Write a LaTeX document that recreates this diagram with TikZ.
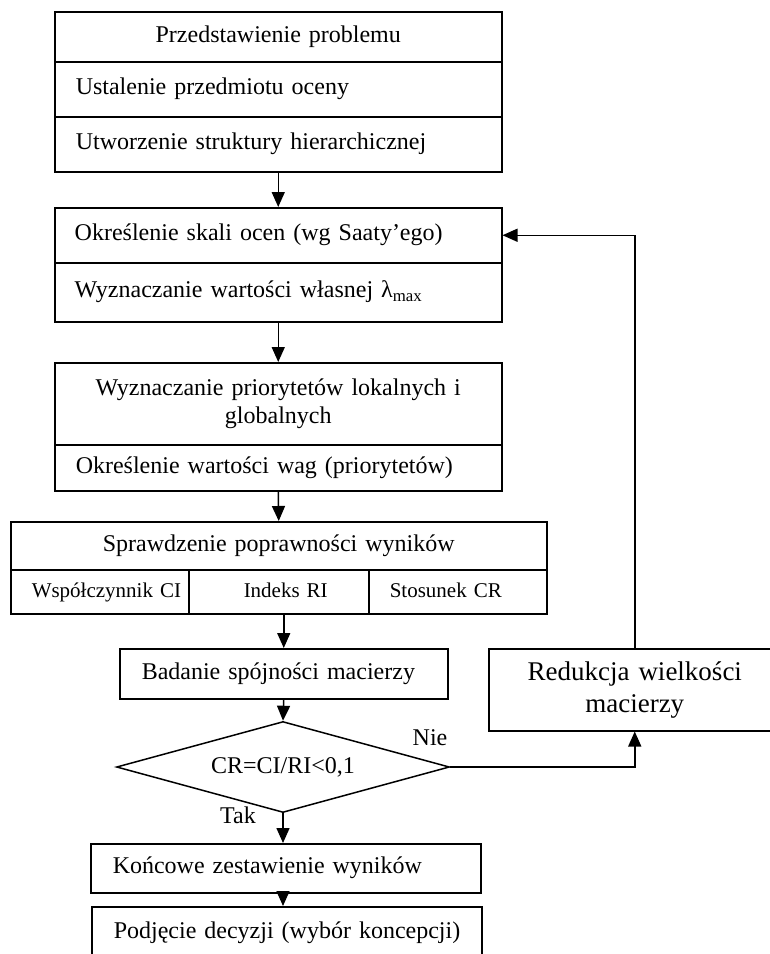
\documentclass[tikz,border=0pt]{standalone}
\usepackage{fontspec}
\setmainfont{Liberation Serif}
\usetikzlibrary{arrows.meta,shapes.geometric}
\newcommand{\fsmain}{\fontsize{24}{27.5}\selectfont}
\newcommand{\fscell}{\fontsize{21}{24}\selectfont}
\newcommand{\fsbig}{\fontsize{27}{32}\selectfont}
\newcommand{\padl}[1]{\hspace*{#1}}
\tikzset{
  box/.style={draw, line width=1.5pt, anchor=north west, inner ysep=0pt, inner xsep=0pt, font=\fsmain},
  one/.style={text height=17pt, text depth=6pt},
  lft/.style={align=left},
  ctr/.style={align=center},
  arr/.style={line width=1.5pt, -{Triangle[length=15pt,width=13pt]}},
  lbl/.style={font=\fsmain, inner sep=0pt}
}
\begin{document}
\begin{tikzpicture}[x=1pt,y=-1pt]
\useasboundingbox (0,0) rectangle (770,954);
\clip (0,0) rectangle (770,954);
% block 1
\node[box,ctr,one,text width=447pt,minimum height=50pt] (p1) at (54,11) {Przedstawienie problemu};
\node[box,lft,one,text width=447pt,minimum height=55pt] (p2) at (54,61) {\padl{21pt}Ustalenie przedmiotu oceny};
\node[box,lft,one,text width=447pt,minimum height=55pt] (p3) at (54,116) {\padl{21pt}Utworzenie struktury hierarchicznej};
% block 2
\node[box,lft,one,text width=447pt,minimum height=55pt] (s1) at (54,207) {\padl{20pt}Określenie skali ocen (wg Saaty’ego)};
\node[box,lft,one,text width=447pt,minimum height=59pt] (s2) at (54,262) {\padl{20pt}Wyznaczanie wartości własnej λ\textsubscript{max}};
% block 3
\node[box,ctr,text width=447pt,minimum height=82pt] (w1) at (54,362) {Wyznaczanie priorytetów lokalnych i\\globalnych};
\node[box,lft,one,text width=447pt,minimum height=46pt] (w2) at (54,444) {\padl{21pt}Określenie wartości wag (priorytetów)};
% block 4
\node[box,ctr,one,text width=536pt,minimum height=48pt] (c0) at (10,521) {Sprawdzenie poprawności wyników};
\node[box,lft,one,font=\fscell,text width=178pt,minimum height=44pt] (c1) at (10,569) {\padl{21pt}Współczynnik CI};
\node[box,lft,one,font=\fscell,text width=180pt,minimum height=44pt] (c2) at (188,569) {\padl{55pt}Indeks RI};
\node[box,lft,one,font=\fscell,text width=178pt,minimum height=44pt] (c3) at (368,569) {\padl{21pt}Stosunek CR};
% check
\node[box,lft,one,text width=328pt,minimum height=50pt] (bad) at (119,648) {\padl{22pt}Badanie spójności macierzy};
\node[box,ctr,font=\fsbig,text width=292pt,minimum height=82pt] (red) at (488,648) {Redukcja wielkości\\macierzy};
\node[draw,line width=1.5pt,diamond,shape aspect=3.66,inner sep=0pt,minimum width=333pt,minimum height=91pt,font=\fsmain] (dec) at (283,767) {CR=CI/RI<0,1};
\node[box,lft,one,text width=390pt,minimum height=49pt] (kon) at (90,843) {\padl{22pt}Końcowe zestawienie wyników};
\node[box,lft,one,text width=390pt,minimum height=52pt] (pod) at (91,906) {\padl{22pt}Podjęcie decyzji (wybór koncepcji)};
% labels
\node[lbl] (nie) at (430,738) {Nie};
\node[lbl] (tak) at (238,815) {Tak};
% connectors
\draw[arr] (p3.south) -- (s1.north);
\draw[arr] (s2.south) -- (w1.north);
\draw[arr] (w2.south) -- (c0.north);
\draw[arr] (bad.north |- c2.south) -- (bad.north);
\draw[arr] (bad.south) -- (dec.north);
\draw[arr] (dec.south) -- (dec.south |- kon.north);
\draw[arr] (dec.south |- kon.south) -- (dec.south |- pod.north);
\draw[arr] (dec.east) -- (dec.east -| red.south) -- (red.south);
\draw[arr] (red.north) -- (red.north |- s1.east) -- (s1.east);
\end{tikzpicture}
\end{document}
